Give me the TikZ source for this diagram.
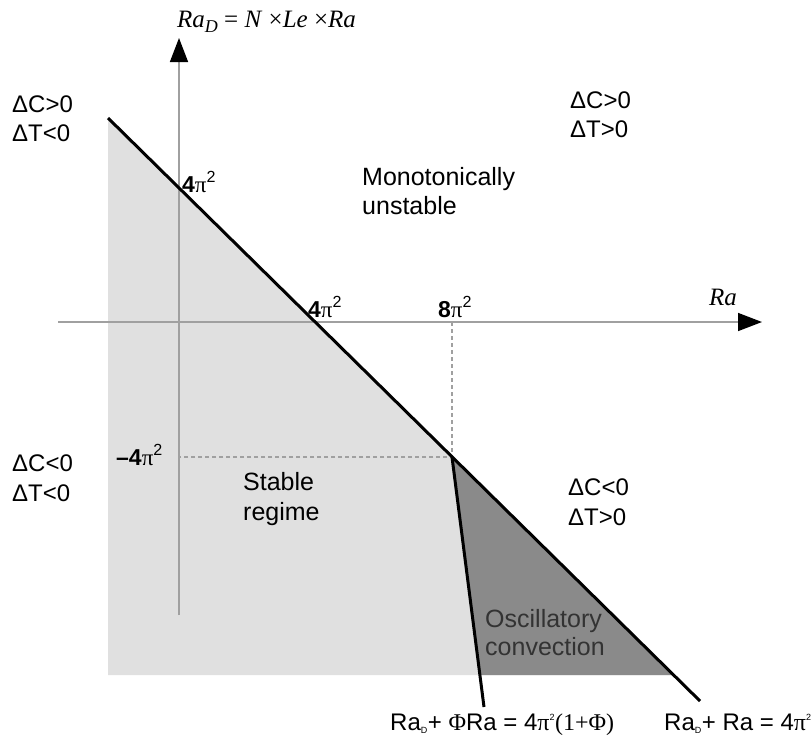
\documentclass[tikz,border=0pt]{standalone}
\usepackage{fontspec}
\setmainfont{Liberation Sans}
\newfontfamily\serifit{Liberation Serif}
\usetikzlibrary{arrows.meta}
\definecolor{lightfill}{HTML}{E0E0E0}
\definecolor{darkfill}{HTML}{8A8A8A}
\definecolor{axisgray}{HTML}{A0A0A0}
\begin{document}
\begin{tikzpicture}[x=1pt,y=-1pt,
  lbl/.style={inner sep=0pt, anchor=base west, font=\fontsize{24}{28}\selectfont},
  region/.style={inner sep=0pt, anchor=base west, font=\fontsize{25}{28}\selectfont},
  tick/.style={inner sep=0pt, anchor=base west, font=\fontsize{23}{26}\selectfont},
  axislbl/.style={inner sep=0pt, anchor=base west, font=\serifit\fontsize{25}{28}\selectfont\itshape},
  axisline/.style={draw=axisgray, line width=1.5pt, -{Triangle[length=24pt,width=18pt,color=black]}},
  guide/.style={draw=axisgray, line width=1.2pt, dash pattern=on 4pt off 3pt},
  bound/.style={draw=black, line width=3pt}]
\useasboundingbox (0,0) rectangle (811,740);
% key points
\coordinate (L0) at (108,118);
\coordinate (L1) at (700,701);
\coordinate (P) at (452,457);
\coordinate (BL) at (108,675);
\coordinate (BR) at (673,675);
\coordinate (BO) at (480,675);
\coordinate (OE) at (484,707);
\coordinate (Ybot) at (179,615);
\coordinate (Ytop) at (179,38);
\coordinate (Xl) at (58,322);
\coordinate (Xr) at (762,322);
\coordinate (Px) at (452,322);
\coordinate (Py) at (179,457);
% fills
\fill[lightfill] (L0) -- (BL) -- (BR) -- cycle;
\fill[darkfill] (P) -- (BO) -- (BR) -- cycle;
% axes
\draw[axisline] (Ybot) -- (Ytop);
\draw[axisline] (Xl) -- (Xr);
% guides
\draw[guide] (Px) -- (P) -- (Py);
% boundaries
\draw[bound] (L0) -- (L1);
\draw[bound] (P) -- (OE);
% axis labels
\node[inner sep=0pt, anchor=base west, font=\serifit\fontsize{25}{28}\selectfont] (ylab) at (177,27)
  {\textit{Ra}\raisebox{-5pt}{\fontsize{18}{20}\selectfont\textit{D}} = \textit{N} ×\textit{Le} ×\textit{Ra}};
\node[axislbl] (xlab) at (709,305) {Ra};
% ticks
\node[tick] (t1) at (182,192) {\textbf{4}{\serifit π}\textsuperscript{2}};
\node[tick] (t2) at (308,317) {\textbf{4}{\serifit π}\textsuperscript{2}};
\node[tick] (t3) at (438,317) {\textbf{8}{\serifit π}\textsuperscript{2}};
\node[tick] (t4) at (116,465) {\textbf{–4}{\serifit π}\textsuperscript{2}};
% quadrant labels
\node[lbl] (q1a) at (12,112) {ΔC>0};
\node[lbl] (q1b) at (12,141) {ΔT<0};
\node[lbl] (q2a) at (570,108) {ΔC>0};
\node[lbl] (q2b) at (570,137) {ΔT>0};
\node[lbl] (q3a) at (12,471) {ΔC<0};
\node[lbl] (q3b) at (12,501) {ΔT<0};
\node[lbl] (q4a) at (568,495) {ΔC<0};
\node[lbl] (q4b) at (568,525) {ΔT>0};
% region labels
\node[region] (m1) at (362,185) {Monotonically};
\node[region] (m2) at (362,214) {unstable};
\node[region] (s1) at (243,490) {Stable};
\node[region] (s2) at (243,520) {regime};
\node[region, text=black!80] (o1) at (485,627) {Oscillatory};
\node[region, text=black!80] (o2) at (485,655) {convection};
% equations
\node[lbl] (e1) at (390,730) {Ra\textsubscript{\fontsize{9}{10}\selectfont D}+ {\serifit Φ}Ra = 4{\serifit π}\textsuperscript{\fontsize{9}{10}\selectfont 2}{\serifit (1+Φ)}};
\node[lbl] (e2) at (664,730) {Ra\textsubscript{\fontsize{9}{10}\selectfont D}+ Ra = 4{\serifit π}\textsuperscript{\fontsize{9}{10}\selectfont 2}};
\end{tikzpicture}
\end{document}
